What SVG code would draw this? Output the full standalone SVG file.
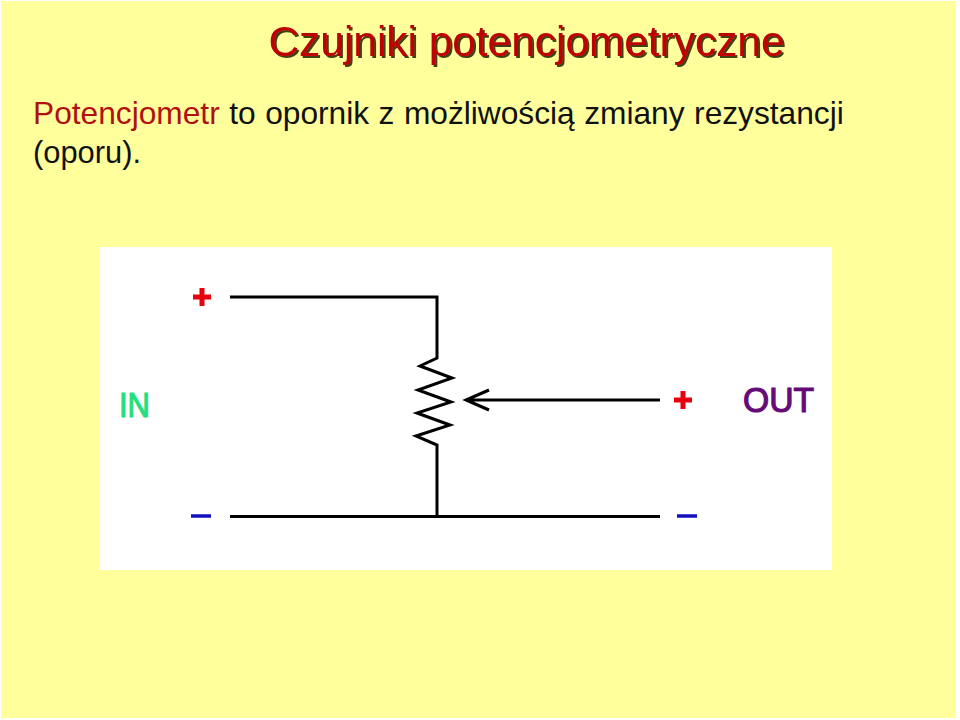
<svg xmlns="http://www.w3.org/2000/svg" width="960" height="720" viewBox="0 0 960 720">
<style>
text{font-family:"Liberation Sans",Arial,sans-serif}
.t{font-size:42.4px}
.b{font-size:31.700px;fill:#111;word-spacing:0.7px}
.w{fill:none;stroke:#000;stroke-width:3}
.s{stroke-width:1.200px}
</style>
<defs><filter id="sh" x="-5%" y="-20%" width="110%" height="140%"><feDropShadow dx="2" dy="2" stdDeviation="0.4" flood-color="#222200" flood-opacity="0.85"/></filter></defs>
<rect width="960" height="720" fill="#fff"/>
<rect x="1" y="1" width="955" height="717" fill="#ffff9c"/>
<text class="t" x="268.500" y="56" fill="#c00000" filter="url(#sh)">Czujniki potencjometryczne</text>
<text class="b" x="33" y="124"><tspan fill="#b01010">Potencjometr</tspan> to opornik z możliwością zmiany rezystancji</text>
<text class="b" x="33" y="163" textLength="108" lengthAdjust="spacingAndGlyphs">(oporu).</text>
<rect x="99" y="247" width="733" height="323" fill="#fff"/>
<g id="connectors">
<path class="w" d="M230 297H437V358L420 366 452 378 418 390 451 402 417 413 450 425 416 436 437 445V516"/>
<path class="w" d="M230 516.500H660"/>
<path class="w" d="M660 400H466M489 390 466 400 489 410"/>
</g>
<g id="in"><text x="119" y="417" font-size="35" fill="#1fe07e" stroke="#1fe07e" class="s" textLength="31" lengthAdjust="spacingAndGlyphs">IN</text></g>
<g id="in-plus"><path d="M193 297H211M202 288V306" stroke="#e8000e" stroke-width="5" fill="none"/></g>
<g id="in-minus"><path d="M191 516H211" stroke="#1010c0" stroke-width="3.500" fill="none"/></g>
<g id="out"><text x="743" y="412" font-size="35" fill="#660a78" stroke="#660a78" class="s" textLength="71" lengthAdjust="spacingAndGlyphs">OUT</text></g>
<g id="out-plus"><path d="M674 400H692M683 391V409" stroke="#e8000e" stroke-width="5" fill="none"/></g>
<g id="out-minus"><path d="M677 516H697" stroke="#1010c0" stroke-width="3.500" fill="none"/></g>
</svg>
